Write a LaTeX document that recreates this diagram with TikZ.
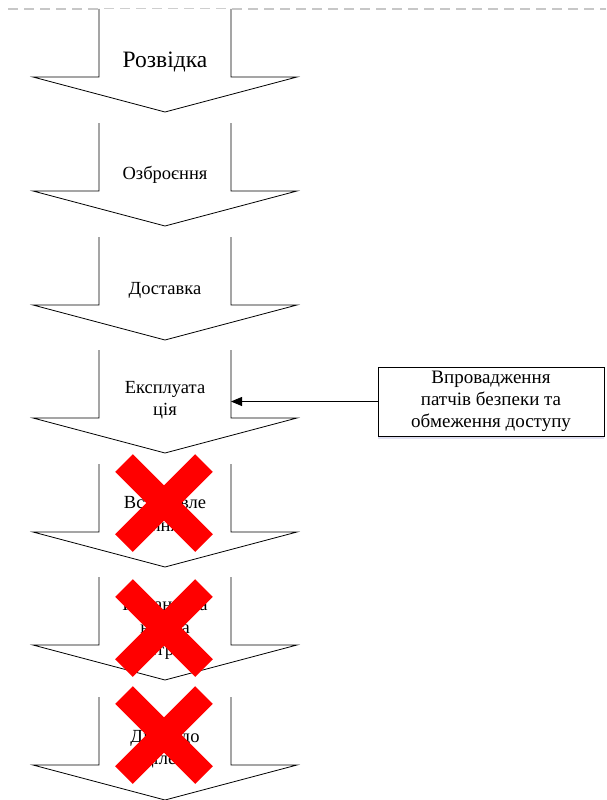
\documentclass[tikz,border=0pt]{standalone}
\usepackage{fontspec}
\setmainfont{Liberation Serif}
\usetikzlibrary{arrows.meta,shadows}
\tikzset{
  kcshape/.style={draw=black, line width=0.8pt, fill=white, line join=miter},
  kclabel/.style={font=\fontsize{18.5}{22.5}\selectfont, align=center, inner sep=0pt},
  redx/.style={draw=red, line width=25pt, line cap=butt},
  topdash/.style={draw=black!22, line width=1.6pt, dash pattern=on 10pt off 6pt},
  fixbox/.style={draw=black, line width=0.8pt, fill=white, minimum width=226pt, minimum height=69pt,
    drop shadow={shadow xshift=0pt, shadow yshift=-3pt, fill=blue!40!gray, opacity=0.18}},
  conn/.style={draw=black, line width=0.8pt, -{Triangle[length=11pt,width=9pt]}}
}
\begin{document}
\begin{tikzpicture}[x=1pt,y=-1pt]
\useasboundingbox (0,0) rectangle (606,800);
\draw[topdash] (8,9) -- (606,9);
\foreach \t in {9,123,237,350,464,577,697} {
  \draw[kcshape] (99,\t) -- (99,\t+68) -- (33,\t+68) -- (165,\t+103) -- (297,\t+68) -- (231,\t+68) -- (231,\t);
}
\node[kclabel, font=\fontsize{23.5}{27}\selectfont] (t1) at (165,62) {Розвідка};
\node[kclabel] (t2) at (165,175) {Озброєння};
\node[kclabel] (t3) at (165,290) {Доставка};
\node[kclabel] (t4) at (165,400) {Експлуата\\ція};
\node[kclabel] (t5) at (165,514) {Встановле\\ння};
\node[kclabel] (t6) at (165,629) {Командува\\ння та\\контроль};
\node[kclabel] (t7) at (165,749) {Дії щодо\\цілей};
\draw[redx] (124,463) -- (204,543);
\draw[redx] (204,463) -- (124,543);
\draw[redx] (124,588) -- (204,668);
\draw[redx] (204,588) -- (124,668);
\draw[redx] (124,695) -- (204,775);
\draw[redx] (204,695) -- (124,775);
\node[fixbox, kclabel, font=\fontsize{19}{22}\selectfont] (fix) at (491,401.5) {Впровадження\\патчів безпеки та\\обмеження доступу};
\coordinate (a4r) at (231,401.5);
\draw[conn] (fix.west) -- (a4r);
\end{tikzpicture}
\end{document}
